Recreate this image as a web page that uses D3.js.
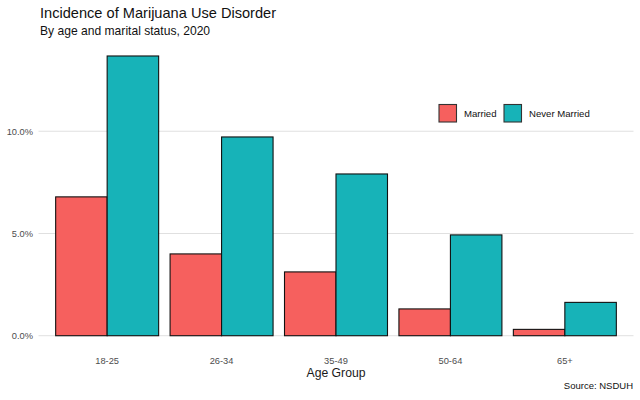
<!DOCTYPE html>
<html>
<head>
<meta charset="utf-8">
<script src="https://cdn.jsdelivr.net/npm/d3@7"></script>
<style>
  body { margin: 0; background: #fff; }
  svg text { font-family: "Liberation Sans", Arial, sans-serif; }
</style>
</head>
<body>
<div id="chart"></div>
<script>
////////
// Data
let ageGroups = ["18-25", "26-34", "35-49", "50-64", "65+"];
let statuses = ["Married", "Never Married"];
let married = [6.79, 4.0, 3.12, 1.31, 0.31];
let neverMarried = [13.68, 9.72, 7.91, 4.93, 1.63];
let yTicks = [0, 5, 10];
let colors = ["#F6605E", "#17B3B8"];

let rows = ageGroups.map((g, i) => ({ group: g, values: [married[i], neverMarried[i]] }));

////////
// Canvas
let width = 640, height = 400;
let panel = { left: 38.5, right: 633.5, top: 42, bottom: 349.7 };

let svg = d3.select("#chart")
  .append("svg")
  .attr("width", width)
  .attr("height", height);

////////
// Scales
// ggplot expands a discrete axis by 0.6 units each side and bars are 0.9 wide,
// which is a band scale with paddingInner 0.1 and paddingOuter 0.15
let x = d3.scaleBand()
  .domain(ageGroups)
  .range([panel.left, panel.right])
  .paddingInner(0.1)
  .paddingOuter(0.15);

let xSub = d3.scaleBand()
  .domain(statuses)
  .range([0, x.bandwidth()]);

let yMax = d3.max(neverMarried);
let y = d3.scaleLinear()
  .domain([-yMax * 0.05, yMax * 1.05])
  .range([panel.bottom, panel.top]);

////////
// Gridlines
svg.append("g")
  .selectAll("line")
  .data(yTicks)
  .enter()
  .append("line")
  .attr("x1", panel.left)
  .attr("x2", panel.right)
  .attr("y1", d => y(d))
  .attr("y2", d => y(d))
  .attr("stroke", "#e0e0e0")
  .attr("stroke-width", 1);

////////
// Bars
let groups = svg.selectAll(".grp")
  .data(rows)
  .enter()
  .append("g")
  .attr("transform", d => `translate(${x(d.group)},0)`);

groups.selectAll("rect")
  .data(d => d.values.map((v, i) => ({ key: statuses[i], v: v, i: i })))
  .enter()
  .append("rect")
  .attr("x", d => xSub(d.key))
  .attr("width", xSub.bandwidth())
  .attr("y", d => y(d.v))
  .attr("height", d => y(0) - y(d.v))
  .attr("fill", d => colors[d.i])
  .attr("stroke", "#111")
  .attr("stroke-width", 1.1);

////////
// Axes
let yAxis = d3.axisLeft(y)
  .tickValues(yTicks)
  .tickSize(0)
  .tickPadding(5)
  .tickFormat(d => d.toFixed(1) + "%");

svg.append("g")
  .attr("transform", `translate(${panel.left},0)`)
  .call(yAxis)
  .call(g => g.select(".domain").remove())
  .call(g => g.selectAll("text")
    .attr("font-size", 9.3)
    .attr("fill", "#4d4d4d")
    .attr("x", -5.5));

let xAxis = d3.axisBottom(x)
  .tickSize(0)
  .tickPadding(8);

svg.append("g")
  .attr("transform", `translate(0,${panel.bottom})`)
  .call(xAxis)
  .call(g => g.select(".domain").remove())
  .call(g => g.selectAll("text")
    .attr("font-size", 9.3)
    .attr("fill", "#4d4d4d"));

svg.append("text")
  .attr("x", (panel.left + panel.right) / 2)
  .attr("y", 377)
  .attr("text-anchor", "middle")
  .attr("font-size", 12.2)
  .attr("fill", "#1a1a1a")
  .text("Age Group");

////////
// Titles and caption
svg.append("text")
  .attr("x", 40)
  .attr("y", 18)
  .attr("font-size", 14.6)
  .attr("fill", "#111")
  .text("Incidence of Marijuana Use Disorder");

svg.append("text")
  .attr("x", 40)
  .attr("y", 35)
  .attr("font-size", 12.1)
  .attr("fill", "#111")
  .text("By age and marital status, 2020");

svg.append("text")
  .attr("x", 633)
  .attr("y", 389)
  .attr("text-anchor", "end")
  .attr("font-size", 9.5)
  .attr("fill", "#111")
  .text("Source: NSDUH");

////////
// Legend
let legendPos = [439, 504];
let legend = svg.append("g");
statuses.forEach((s, i) => {
  legend.append("rect")
    .attr("x", legendPos[i])
    .attr("y", 104.5)
    .attr("width", 17.5)
    .attr("height", 17.5)
    .attr("fill", colors[i])
    .attr("stroke", "#333")
    .attr("stroke-width", 1.1);
  legend.append("text")
    .attr("x", legendPos[i] + 25)
    .attr("y", 113.5)
    .attr("dy", "0.35em")
    .attr("font-size", 9.6)
    .attr("fill", "#111")
    .text(s);
});
</script>
</body>
</html>
